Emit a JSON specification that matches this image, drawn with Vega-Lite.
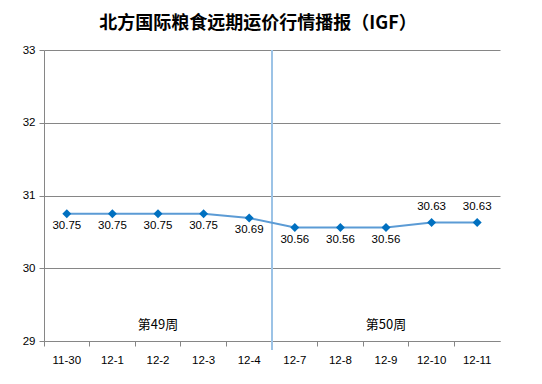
{
  "$schema": "https://vega.github.io/schema/vega-lite/v6.json",
  "autosize": {"type": "none"},
  "width": 456,
  "height": 291,
  "padding": {"left": 44, "top": 50, "right": 42, "bottom": 43},
  "background": "white",
  "config": {"view": {"stroke": null}},
  "title": {
    "text": "北方国际粮食远期运价行情播报（IGF）",
    "font": "Noto Sans CJK SC",
    "fontSize": 18,
    "fontWeight": "bold",
    "color": "#000000",
    "anchor": "middle",
    "dx": -14,
    "offset": 11
  },
  "data": {
    "values": [
      {"d": "11-30", "v": 30.75},
      {"d": "12-1", "v": 30.75},
      {"d": "12-2", "v": 30.75},
      {"d": "12-3", "v": 30.75},
      {"d": "12-4", "v": 30.69},
      {"d": "12-7", "v": 30.56},
      {"d": "12-8", "v": 30.56},
      {"d": "12-9", "v": 30.56},
      {"d": "12-10", "v": 30.63},
      {"d": "12-11", "v": 30.63}
    ]
  },
  "encoding": {
    "x": {
      "field": "d",
      "type": "ordinal",
      "sort": null,
      "scale": {
        "domain": ["11-30", "12-1", "12-2", "12-3", "12-4", "12-7", "12-8", "12-9", "12-10", "12-11"],
        "paddingInner": 0,
        "paddingOuter": 0
      },
      "axis": {
        "title": null,
        "labelAngle": 0,
        "labelFont": "Liberation Sans",
        "labelFontSize": 11.5,
        "labelColor": "#000000",
        "labelPadding": 8,
        "domainColor": "#868686",
        "tickColor": "#868686",
        "tickSize": 5,
        "bandPosition": 0,
        "grid": false
      }
    },
    "y": {
      "field": "v",
      "type": "quantitative",
      "scale": {"domain": [29, 33], "nice": false, "zero": false},
      "axis": {
        "title": null,
        "values": [29, 30, 31, 32, 33],
        "labelFont": "Liberation Sans",
        "labelFontSize": 11.5,
        "labelColor": "#000000",
        "labelPadding": 4,
        "domainColor": "#868686",
        "tickColor": "#868686",
        "tickSize": 5,
        "grid": true,
        "gridColor": "#868686",
        "gridOpacity": 1
      }
    }
  },
  "layer": [
    {
      "mark": {"type": "rule", "color": "#9DC3E6", "strokeWidth": 1.5},
      "encoding": {
        "x": {"datum": "12-7", "bandPosition": 0},
        "y": {"datum": 33},
        "y2": {"datum": 28.876}
      }
    },
    {
      "mark": {"type": "line", "color": "#5B9BD5", "strokeWidth": 2}
    },
    {
      "mark": {"type": "point", "shape": "diamond", "filled": true, "color": "#0070C0", "size": 80, "opacity": 1}
    },
    {
      "transform": [{"filter": "datum.d != '12-10' && datum.d != '12-11'"}],
      "mark": {"type": "text", "dy": 12, "baseline": "middle", "font": "Liberation Sans", "fontSize": 11.5, "color": "#000000"},
      "encoding": {"text": {"field": "v", "type": "quantitative", "format": ".2f"}}
    },
    {
      "transform": [{"filter": "datum.d == '12-10' || datum.d == '12-11'"}],
      "mark": {"type": "text", "dy": -15, "baseline": "middle", "font": "Liberation Sans", "fontSize": 11.5, "color": "#000000"},
      "encoding": {"text": {"field": "v", "type": "quantitative", "format": ".2f"}}
    },
    {
      "data": {"values": [{"d": "12-2", "v": 29.22, "t": "第49周"}, {"d": "12-9", "v": 29.22, "t": "第50周"}]},
      "mark": {"type": "text", "baseline": "middle", "font": "Noto Sans CJK SC", "fontSize": 13, "color": "#000000"},
      "encoding": {"text": {"field": "t"}}
    }
  ]
}
